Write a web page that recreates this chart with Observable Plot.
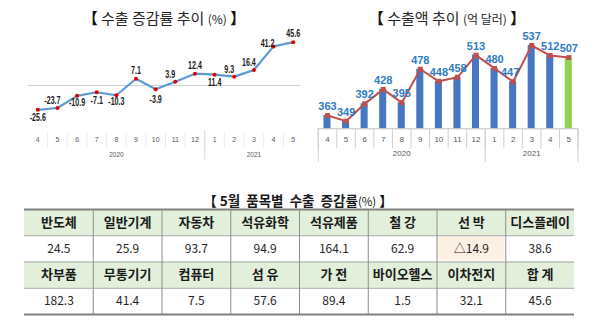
<!DOCTYPE html>
<html><head><meta charset="utf-8">
<script src="https://cdn.jsdelivr.net/npm/d3@7"></script>
<script src="https://cdn.jsdelivr.net/npm/@observablehq/plot@0.6"></script>
<style>
html,body{margin:0;padding:0;background:#fff;}
body{width:600px;height:329px;position:relative;overflow:hidden;font-family:"Noto Sans CJK KR",sans-serif;}
.title{position:absolute;text-align:center;white-space:pre;color:#262626;font-size:15px;line-height:18px;}
.title .br{font-weight:bold;color:#111;}
.title small{font-size:12px;}
.box{position:absolute;}
.box svg{display:block;overflow:visible;}
</style></head><body>
<div class="title" style="left:64px;top:9px;width:200px"><span class="br">【</span> 수출 증감률 추이 <small>(%)</small> <span class="br">】</span></div>
<div class="title" style="left:347px;top:9px;width:200px"><span class="br">【</span> 수출액 추이 <small>(억 달러)</small> <span class="br">】</span></div>
<div class="title" style="left:198px;top:191px;width:200px;font-size:13.5px;font-weight:bold;color:#1a1a1a"><span class="br">【</span> 5월  품목별  수출  증감률<small style="font-weight:normal;font-size:11.5px">(%)</small> <span class="br">】</span></div>
<div id="c1" class="box" style="left:0;top:30px"></div>
<div id="c2" class="box" style="left:300px;top:30px"></div>
<div id="c3" class="box" style="left:0;top:205px"></div>
<script>
// ---- data ----
const periods = ["2020-04","2020-05","2020-06","2020-07","2020-08","2020-09","2020-10","2020-11","2020-12","2021-01","2021-02","2021-03","2021-04","2021-05"];
const growth = [-25.6,-23.7,-10.9,-7.1,-10.3,7.1,-3.9,3.9,12.4,11.4,9.3,16.4,41.2,45.6];
const exportsAmt = [363,349,392,428,395,478,448,458,513,480,447,537,512,507];
const itemsTop = ["반도체","일반기계","자동차","석유화학","석유제품","철 강","선 박","디스플레이"];
const ratesTop = [24.5,25.9,93.7,94.9,164.1,62.9,-14.9,38.6];
const itemsBottom = ["차부품","무통기기","컴퓨터","섬 유","가 전","바이오헬스","이차전지","합 계"];
const ratesBottom = [182.3,41.4,7.5,57.6,89.4,1.5,32.1,45.6];

// ---- derived ----
const n = periods.length;
const idx = d3.range(n);
const months = periods.map(p => String(+p.slice(5)));
const yearGroups = Array.from(d3.group(idx, i => periods[i].slice(0,4)), ([year, v]) => ({year, x: d3.mean(v), last: d3.max(v)}));
const narrow = '"Liberation Sans Narrow","Liberation Sans",sans-serif';

// ---- left: growth line ----
const placeL = [
  {ids:[5,8,13], dx:0, dy:-8.5},
  {ids:[1,7,10,11], dx:-5, dy:-7.5},
  {ids:[12], dx:-6, dy:-3.5},
  {ids:[0,3,9], dx:0, dy:8},
  {ids:[2,4], dx:0, dy:6},
  {ids:[6], dx:0, dy:10.5}
];
const left = Plot.plot({
  width: 300, height: 135, marginLeft: 28, marginRight: 0, marginTop: 0, marginBottom: 0,
  x: {domain: [0, n-1], range: [37.3, 292.7], axis: null},
  y: {domain: [-25.6, 45.6], range: [79.3, 11.7], axis: null},
  style: {background: "transparent", fontFamily: narrow, overflow: "visible"},
  marks: [
    Plot.ruleY([0], {stroke: "#d0d0d0"}),
    Plot.ruleX(idx.slice(0, -1), {x: i => i + 0.5, stroke: "#ececec", insetTop: 103, insetBottom: 17}),
    Plot.ruleX(yearGroups.slice(0, -1), {x: d => d.last + 0.5, stroke: "#d9d9d9", insetTop: 100, insetBottom: 5}),
    Plot.text(months, {x: (d, i) => i, text: d => d, frameAnchor: "bottom", lineAnchor: "middle", dy: -25.7, fontSize: 7, fill: "#595959"}),
    Plot.text(yearGroups, {x: "x", text: "year", frameAnchor: "bottom", lineAnchor: "middle", dy: -10.7, fontSize: 6.5, fill: "#595959"}),
    Plot.line(growth, {x: (d, i) => i, y: d => d, stroke: "#5B9BD5", strokeWidth: 2.2}),
    Plot.dot(growth, {x: (d, i) => i, y: d => d, r: 2, fill: "#E00000"}),
    ...placeL.map(p => Plot.text(growth, {filter: (d, i) => p.ids.includes(i), x: (d, i) => i, y: d => d, text: d => d.toFixed(1), dx: p.dx, dy: p.dy, lineAnchor: "middle", fontSize: 11.5, fontWeight: "bold", fill: "#1a1a1a"}))
  ]
});
document.getElementById("c1").append(left);
// condense the bold data labels horizontally around their anchor (the reference uses a very narrow face)
left.querySelectorAll("text").forEach(el => {
  if (/^-?\d+\.\d$/.test(el.textContent)) {
    const xa = el.getAttribute("x");
    const x = xa !== null && isFinite(+xa) ? +xa : 0;
    if (xa !== null && isFinite(+xa)) el.removeAttribute("x");
    const t = el.getAttribute("transform") || "";
    el.setAttribute("transform", `${t} translate(${x},0) scale(0.62,1)`);
  }
});

// ---- right: export amounts ----
const right = Plot.plot({
  width: 300, height: 135, marginLeft: 17.7, marginRight: 22.4, marginTop: 0, marginBottom: 0,
  x: {domain: [0, n-1], range: [27, 268.3], axis: null},
  y: {domain: [330, 537], range: [98.3, 15], axis: null},
  style: {background: "transparent", fontFamily: '"Liberation Sans",sans-serif', overflow: "visible"},
  marks: [
    Plot.rect(exportsAmt, {filter: (d, i) => i < n - 1, x1: (d, i) => i - 0.19, x2: (d, i) => i + 0.19, y1: () => 330, y2: d => d, fill: "#4677C2"}),
    Plot.rect(exportsAmt, {filter: (d, i) => i === n - 1, x1: (d, i) => i - 0.19, x2: (d, i) => i + 0.19, y1: () => 330, y2: d => d, fill: "#92D050"}),
    Plot.ruleY([330], {stroke: "#bfbfbf"}),
    Plot.ruleX(d3.range(n + 1), {x: i => i - 0.5, stroke: "#cfcfcf", insetTop: 98.3, insetBottom: 16.7}),
    Plot.ruleX([-0.5, ...yearGroups.map(g => g.last + 0.5)], {x: d => d, stroke: "#cfcfcf", insetTop: 98.3, insetBottom: 3.3}),
    Plot.text(months, {x: (d, i) => i, text: d => d, frameAnchor: "bottom", lineAnchor: "middle", dy: -25.7, fontSize: 8, fill: "#595959"}),
    Plot.text(yearGroups, {x: "x", text: "year", frameAnchor: "bottom", lineAnchor: "middle", dy: -11.7, fontSize: 8, fill: "#595959"}),
    Plot.line(exportsAmt, {x: (d, i) => i, y: d => d, stroke: "#C0504D", strokeWidth: 2}),
    Plot.dot(exportsAmt, {x: (d, i) => i, y: d => d, r: 2.8, symbol: "square", fill: "#C0504D"}),
    Plot.text(exportsAmt, {filter: (d, i) => i !== 10, x: (d, i) => i, y: d => d, text: d => String(d), dy: -9, lineAnchor: "middle", fontSize: 11, fontWeight: "bold", fill: "#2E7BC4"}),
    Plot.text(exportsAmt, {filter: (d, i) => i === 10, x: (d, i) => i, y: d => d, text: d => String(d), dx: -3, dy: -9, lineAnchor: "middle", fontSize: 11, fontWeight: "bold", fill: "#2E7BC4"})
  ]
});
document.getElementById("c2").append(right);

// ---- table ----
const fmt = v => v < 0 ? "△" + Math.abs(v).toFixed(1) : v.toFixed(1);
const cells = [];
[[itemsTop, ratesTop], [itemsBottom, ratesBottom]].forEach(([items, rates], b) => {
  items.forEach((t, c) => cells.push({row: 2 * b, col: c, text: t, head: true, neg: false}));
  rates.forEach((v, c) => cells.push({row: 2 * b + 1, col: c, text: fmt(v), head: false, neg: v < 0}));
});
const table = Plot.plot({
  width: 600, height: 124, marginLeft: 24, marginRight: 26, marginTop: 4, marginBottom: 15,
  x: {domain: [0, 8], range: [24, 574], axis: null},
  y: {domain: [0, 4], range: [4, 109], axis: null},
  style: {background: "transparent", fontFamily: '"Noto Sans CJK KR",sans-serif', overflow: "visible"},
  marks: [
    Plot.rect(cells, {filter: d => d.head, x1: "col", x2: d => d.col + 1, y1: "row", y2: d => d.row + 1, fill: "#E2EFDA"}),
    Plot.rect(cells, {filter: d => d.neg, x1: "col", x2: d => d.col + 1, y1: "row", y2: d => d.row + 1, fill: "#FDF1E4", inset: 1}),
    Plot.ruleY([1, 2, 3], {stroke: "#a6a6a6"}),
    Plot.ruleY([0, 4], {stroke: "#808080", strokeWidth: 2}),
    Plot.ruleX(d3.range(1, 8), {stroke: "#8c8c8c"}),
    Plot.text(cells, {filter: d => d.head, x: d => d.col + 0.5, y: d => d.row + 0.5, text: "text", lineAnchor: "middle", fontSize: 13, fontWeight: "bold", fill: "#1a1a1a"}),
    Plot.text(cells, {filter: d => !d.head, x: d => d.col + 0.5, y: d => d.row + 0.5, text: "text", lineAnchor: "middle", fontSize: 12, fill: "#262626"})
  ]
});
document.getElementById("c3").append(table);
</script>
</body></html>
